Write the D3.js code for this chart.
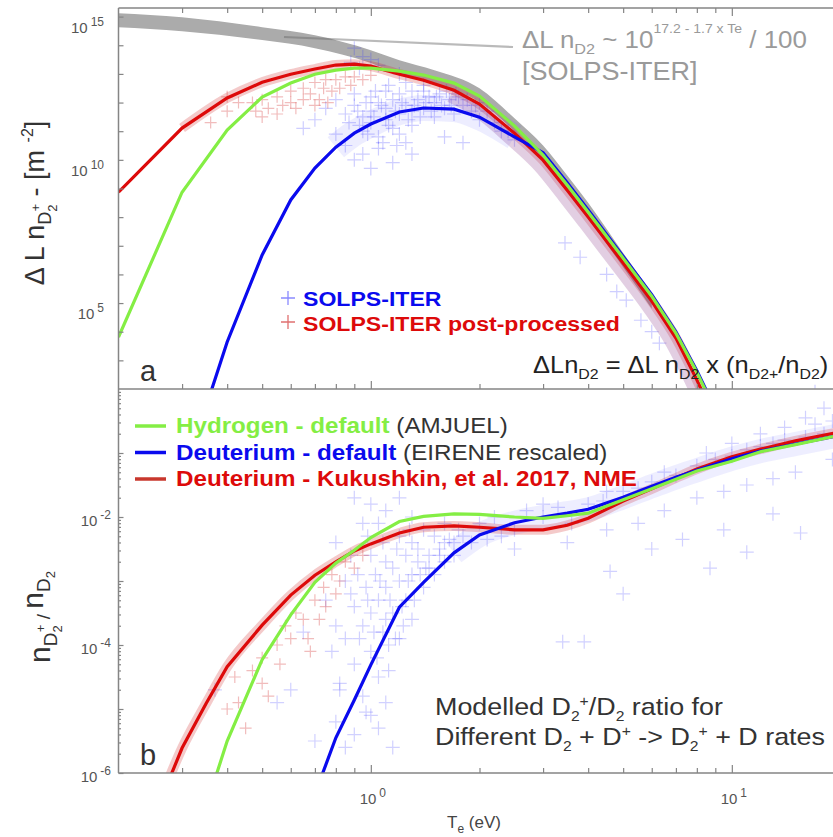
<!DOCTYPE html>
<html><head><meta charset="utf-8">
<script src="https://cdn.jsdelivr.net/npm/d3@7"></script>
<style>
body{margin:0;background:#fff}
svg{display:block}
text{font-family:"Liberation Sans",Arial,Helvetica,sans-serif}
</style>
</head><body>
<svg id="c" width="833" height="837"></svg>
<script>
// ---------------- DATA (log10 of the y quantity) ----------------
// x axis: electron temperature Te (eV)
const xTickMajor = [1, 10];
const xTickMinor = [0.3,0.4,0.5,0.6,0.7,0.8,0.9,2,3,4,5,6,7,8,9,20];
const topTickExp = [3,4,5,6,7,8,9,10,11,12,13,14,15];
const topLabelExp = [5,10,15];
const botTickExp = [-6,-5,-4,-3,-2,-1];
const botLabelExp = [-6,-4,-2];

// Panel a : Delta L n_D2+  [m^-2]  (log10)
const teTop      = [0.2,0.3,0.4,0.5,0.6,0.7,0.8,0.9,1.0,1.2,1.4,1.7,2.0,2.5,3.0,3.5,4,5,6,7,8,8.5];
const greenTop   = [3.81,8.87,11.04,12.19,12.68,12.99,13.13,13.2,13.2,13.10,12.96,12.68,12.23,11.18,10.17,9.12,8.18,6.57,5.24,3.95,2.59,1.89];
const redTop     = [8.87,11.11,12.16,12.71,12.99,13.17,13.31,13.34,13.27,12.99,12.78,12.43,11.95,10.93,9.99,8.94,8.0,6.40,5.07,3.78,2.32,1.6];
const teBlueTop  = [0.35,0.4,0.5,0.6,0.7,0.8,0.9,1.0,1.2,1.4,1.7,2.0,2.5,3.0,3.5,4,5,6,7,8,8.5];
const blueTop    = [1.40,3.64,6.68,8.60,9.71,10.44,10.93,11.25,11.67,11.81,11.77,11.49,10.8,10.25,9.2,8.25,6.63,5.29,4.0,2.64,1.95];
// grey band: Delta L n_D2 ~ 10^(17.2-1.7 Te)/100 [SOLPS-ITER]
const teBand     = [0.2,0.3,0.5,0.7,1.0,1.2,1.5,2.0,2.5,3.0,3.5,4,5,6];
const bandHi     = [15.12,14.98,14.63,14.35,13.83,13.48,13.13,12.50,11.45,10.5,9.45,8.5,6.75,5.35];
const bandLo     = [14.63,14.49,14.18,13.90,13.38,12.99,12.64,12.02,11.0,9.95,8.9,7.95,6.25,4.8];
// SOLPS-ITER scatter (blue) and post-processed scatter (red), panel a  [Te, log10]
const solpsTop = [
 [0.9,13.9],[0.95,13.6],[0.88,13.4],[1.0,13.5],[0.93,13.2],[1.05,13.3],[1.2,13.0],
 [0.75,11.8],[0.8,12.1],[0.85,11.6],[0.9,12.3],[0.9,11.9],[0.95,11.5],[0.95,11.0],[1.0,12.2],[1.0,11.7],[1.0,11.3],
 [1.05,12.0],[1.05,10.8],[1.1,12.4],[1.1,11.8],[1.1,11.4],[1.15,12.1],[1.15,11.1],[1.2,12.3],[1.2,11.6],[1.2,10.9],
 [1.25,11.9],[1.3,12.4],[1.3,11.7],[1.3,11.2],[1.35,12.1],[1.4,12.4],[1.4,11.8],[1.45,12.2],[1.5,12.0],[1.5,11.5],
 [1.55,12.3],[1.6,11.8],[1.65,12.1],[1.7,11.6],[1.75,12.2],[1.8,11.9],[1.9,11.7],[2.0,11.4],[2.0,12.0],[2.2,11.3],
 [2.3,11.0],[2.5,10.7],
 [0.87,11.3],[0.92,11.7],[0.97,12.0],[1.02,11.5],[1.07,11.9],[1.12,11.2],[1.17,11.7],[1.22,12.0],[1.27,11.4],
 [1.32,11.9],[1.37,11.5],[1.42,12.0],[1.47,11.7],[1.52,12.2],[1.57,11.9],[1.62,12.4],[1.67,11.9],[1.72,12.3],
 [1.85,12.1],[1.95,11.9],[2.1,11.7],[2.4,11.0],[1.12,12.6],[1.25,12.7],[1.4,12.6],[1.03,12.4],[0.98,10.9],
 [1.08,10.6],[1.18,10.5],[0.93,11.2],
 [0.85,10.5],[0.95,10.2],[1.05,10.4],[1.15,9.9],[1.3,10.2],[1.0,9.7],[0.9,10.0],[1.25,10.6],[0.8,10.9],[0.7,11.4],
 [0.65,11.1],[1.6,10.8],[1.8,10.6],
 [3.45,7.1],[3.8,6.6],[4.5,6.0],[4.8,5.4],[5.1,5.1],[5.6,4.4],[6.0,4.0],[6.3,3.6],[17,1.9]
];
const ppTop = [
 [0.47,12.0],[0.48,11.7],[0.5,11.5],[0.5,12.1],[0.52,11.8],[0.55,11.6],[0.55,12.2],[0.57,11.9],[0.6,12.4],
 [0.6,12.0],[0.62,11.8],[0.65,12.5],[0.65,12.1],[0.68,12.3],[0.7,12.7],[0.7,11.9],[0.72,12.1],[0.74,12.5],
 [0.75,12.8],[0.76,12.0],[0.78,12.4],[0.8,12.8],[0.82,12.5],[0.85,12.9],[0.88,12.6],[0.9,12.9],[0.95,12.8],
 [1.0,12.95],[0.36,11.3],[0.4,11.7],[0.43,12.0],[0.4,12.2]
];

// Panel b : n_D2+ / n_D2  (log10)
const teRedBot   = [0.25,0.3,0.35,0.4,0.5,0.6,0.7,0.8,0.9,1.0,1.2,1.4,1.7,2.0,2.5,3.0,3.5,4,5,6,7,8,10,12,15,20];
const redBot     = [-6.70,-5.61,-4.91,-4.34,-3.69,-3.22,-2.91,-2.70,-2.53,-2.42,-2.25,-2.16,-2.14,-2.16,-2.20,-2.20,-2.13,-2.02,-1.75,-1.56,-1.39,-1.25,-1.06,-0.94,-0.81,-0.67];
const teGreenBot = [0.35,0.4,0.5,0.6,0.7,0.8,0.9,1.0,1.2,1.4,1.7,2.0,2.5,3.0,3.5,4,5,6,7,8,10,12,15,20];
const greenBot   = [-6.52,-5.50,-4.23,-3.53,-3.02,-2.72,-2.52,-2.32,-2.07,-1.99,-1.95,-1.96,-2.00,-2.02,-1.98,-1.94,-1.73,-1.56,-1.41,-1.28,-1.13,-0.98,-0.87,-0.72];
const teBlueBot  = [0.7,0.8,0.9,1.0,1.2,1.4,1.7,2.0,2.5,3.0,3.5,4,5,6,7,8,10,12,15,20];
const blueBot    = [-6.33,-5.45,-4.86,-4.31,-3.41,-3.02,-2.56,-2.28,-2.09,-2.00,-1.94,-1.88,-1.69,-1.52,-1.38,-1.27,-1.09,-0.97,-0.86,-0.72];
const solpsBot = [
 [0.75,-3.3],[0.78,-4.1],[0.8,-2.4],[0.8,-3.7],[0.82,-4.6],[0.85,-3.0],[0.85,-3.9],[0.88,-2.6],[0.9,-3.4],[0.9,-4.3],
 [0.92,-2.9],[0.95,-3.7],[0.95,-4.8],[0.97,-3.1],[1.0,-2.6],[1.0,-3.5],[1.0,-4.1],[1.03,-2.9],[1.05,-3.3],[1.05,-4.5],
 [1.08,-3.8],[1.1,-2.7],[1.1,-3.1],[1.12,-4.0],[1.15,-3.5],[1.15,-2.8],[1.2,-3.0],[1.2,-3.9],[1.25,-2.6],[1.25,-3.3],
 [1.3,-2.9],[1.3,-3.6],[1.35,-2.7],[1.4,-3.1],[1.45,-2.6],[1.5,-2.9],[1.55,-2.5],[1.6,-2.7],[1.7,-2.4],
 [0.98,-3.3],[1.02,-3.8],[1.06,-3.0],[1.1,-3.6],[1.13,-3.3],[1.17,-3.9],[1.22,-3.4],[1.27,-3.0],[1.32,-3.3],
 [1.37,-2.9],[1.42,-2.8],[1.18,-2.5],[1.08,-2.4],[1.28,-2.2],[1.12,-4.4],[0.93,-3.9],[0.88,-3.2],[1.04,-4.2],
 [1.23,-3.7],[1.6,-2.4],[1.7,-2.6],[1.9,-2.4],[2.1,-2.35],[2.3,-2.3],[0.98,-2.3],[1.05,-2.1],
 [1.2,-2.3],[1.3,-2.4],[1.4,-2.2],[1.5,-2.3],[1.6,-2.1],[1.35,-2.5],[1.45,-2.8],[1.55,-2.6],[1.65,-2.35],[1.75,-2.2],
 [0.9,-1.7],[1.0,-1.8],[1.1,-1.9],[1.2,-1.7],[0.95,-2.1],[1.3,-2.0],
 [0.7,-5.5],[0.8,-5.2],[0.85,-5.6],[0.9,-5.4],[1.0,-5.1],[1.05,-5.3],[0.6,-4.7],[0.55,-4.9],[1.1,-4.9],[0.65,-3.8],
 [0.37,-4.7],[0.82,-4.7],[0.97,-5.05],[1.15,-5.6],
 [1.8,-2.3],[2.0,-2.1],[2.2,-2.0],[2.5,-2.2],[2.7,-1.9],[3.0,-2.0],[3.3,-1.85],[3.6,-2.1],[4.0,-1.8],[4.4,-1.75],
 [5.0,-1.6],[5.5,-1.55],[6.0,-1.45],[7.0,-1.35],[8.0,-1.2],[9.0,-1.1],[10,-1.05],[11,-0.95],[12,-0.9],[13,-0.85],
 [14,-0.8],[16,-0.75],[18,-0.7],
 [3.0,-1.8],[4.5,-1.6],[6.5,-1.3],[8.5,-1.0],[10,-0.85],[12,-0.7],[14,-0.6],[16,-0.45],[18,-0.3],[17,-0.55],[19,-0.5],
 [2.5,-2.5],[3.5,-2.4],[4.5,-2.2],[5.5,-2.1],[6.5,-1.9],[8,-1.7],[9.5,-1.6],[11,-1.5],[13,-1.4],[15,-1.3],[19,-1.1],
 [4.6,-2.85],[5.0,-3.2],[3.4,-3.95],[3.9,-3.95],[8.7,-2.8],[11,-2.55],[15.5,-2.25],[13,-1.95],[7.3,-2.35],[6,-2.5],[9.5,-2.2]
];
const ppBot = [
 [0.47,-4.4],[0.5,-4.2],[0.5,-4.6],[0.52,-4.8],[0.55,-4.0],[0.56,-4.3],[0.58,-3.7],[0.6,-3.9],[0.62,-3.5],[0.65,-3.6],
 [0.67,-3.9],[0.68,-4.1],[0.7,-3.3],[0.72,-3.6],[0.74,-3.1],[0.75,-3.4],[0.78,-2.9],[0.8,-3.2],[0.82,-3.0],[0.85,-2.7],
 [0.9,-2.8],[0.95,-2.6],[0.42,-4.5],[0.4,-5.0],[0.45,-5.3],[0.43,-4.9]
];

// ---------------- STYLE ----------------
const GREEN = "#84ee44", BLUE = "#0a0aee", RED = "#dd0a0a", AXIS = "#858585", TXT = "#333";

// ---------------- SCALES ----------------
const svg = d3.select("#c");
const x = d3.scaleLog().domain([0.2, 20]).range([118.5, 840.5]);
const yTop = d3.scaleLog().domain([1e2, 2e15]).range([389, 8]);
const yBot = d3.scaleLog().domain([1e-6, 1]).range([773, 389]);
const L = 118.5, R = 840.5;

const defs = svg.append("defs");
defs.append("clipPath").attr("id","clipTop").append("rect").attr("x",L).attr("y",8).attr("width",R-L).attr("height",381);
defs.append("clipPath").attr("id","clipBot").append("rect").attr("x",L).attr("y",389).attr("width",R-L).attr("height",384);

const zip = (a,b) => a.map((t,i)=>[t,b[i]]);
const lineGen = ys => d3.line().x(d=>x(d[0])).y(d=>ys(Math.pow(10,d[1])));

function pluses(g, data, ys, color, op, s){
  g.append("g").selectAll("path").data(data).join("path")
   .attr("d", d=>{const px=x(d[0]), py=ys(Math.pow(10,d[1])); return `M${px-s},${py}h${2*s}M${px},${py-s}v${2*s}`;})
   .attr("stroke", color).attr("stroke-opacity", op).attr("stroke-width",1.2).attr("fill","none");
}

// ---------------- PANEL A ----------------
const gA = svg.append("g").attr("clip-path","url(#clipTop)");
gA.append("path").datum(teBand.map((t,i)=>[t,bandLo[i],bandHi[i]]))
  .attr("d", d3.area().x(d=>x(d[0])).y0(d=>yTop(Math.pow(10,d[1]))).y1(d=>yTop(Math.pow(10,d[2]))).curve(d3.curveMonotoneX))
  .attr("fill","#ababab");
// leader line to annotation
svg.append("line").attr("x1",284).attr("y1",37).attr("x2",513).attr("y2",47)
  .attr("stroke","#666").attr("stroke-opacity",0.45).attr("stroke-width",2.2);

pluses(gA, solpsTop, yTop, "#3a3aff", 0.25, 7);
pluses(gA, ppTop, yTop, "#d02020", 0.3, 6);
// dense scatter bands around the post-processed curve
const redTopPts = zip(teTop, redTop);
gA.append("path").datum(redTopPts.filter(d=>d[0]>=0.25)).attr("d", lineGen(yTop).curve(d3.curveMonotoneX))
  .attr("fill","none").attr("stroke","#d02020").attr("stroke-opacity",0.24).attr("stroke-width",10);
gA.append("path").datum(redTopPts.filter(d=>d[0]>=1.7)).attr("d", lineGen(yTop).curve(d3.curveMonotoneX))
  .attr("transform","translate(-4,6)")
  .attr("fill","none").attr("stroke","#8a3a8a").attr("stroke-opacity",0.25).attr("stroke-width",12);
gA.append("path").datum(zip(teBlueTop,blueTop).filter(d=>d[0]>=0.8 && d[0]<=2.5)).attr("d", lineGen(yTop).curve(d3.curveMonotoneX))
  .attr("fill","none").attr("stroke","#4a4aff").attr("stroke-opacity",0.10).attr("stroke-width",26);

gA.append("path").datum(redTopPts).attr("d", lineGen(yTop)).attr("fill","none").attr("stroke",RED).attr("stroke-width",3.2);
gA.append("path").datum(zip(teBlueTop,blueTop)).attr("d", lineGen(yTop)).attr("fill","none").attr("stroke",BLUE).attr("stroke-width",3.2);
gA.append("path").datum(zip(teTop,greenTop)).attr("d", lineGen(yTop)).attr("fill","none").attr("stroke",GREEN).attr("stroke-width",3.2);

// ---------------- PANEL B ----------------
const gB = svg.append("g").attr("clip-path","url(#clipBot)");
pluses(gB, solpsBot, yBot, "#3a3aff", 0.23, 7);
pluses(gB, ppBot, yBot, "#d02020", 0.3, 6);
const redBotPts = zip(teRedBot, redBot);
gB.append("path").datum(redBotPts).attr("d", lineGen(yBot).curve(d3.curveMonotoneX))
  .attr("fill","none").attr("stroke","#d02020").attr("stroke-opacity",0.24).attr("stroke-width",10);
gB.append("path").datum(zip(teBlueBot,blueBot).filter(d=>d[0]>=1.5)).attr("d", lineGen(yBot).curve(d3.curveMonotoneX))
  .attr("fill","none").attr("stroke","#5a5aff").attr("stroke-opacity",0.10).attr("stroke-width",24);
gB.append("path").datum(redBotPts).attr("d", lineGen(yBot)).attr("fill","none").attr("stroke",RED).attr("stroke-width",3.2);
gB.append("path").datum(zip(teBlueBot,blueBot)).attr("d", lineGen(yBot)).attr("fill","none").attr("stroke",BLUE).attr("stroke-width",3.2);
gB.append("path").datum(zip(teGreenBot,greenBot)).attr("d", lineGen(yBot)).attr("fill","none").attr("stroke",GREEN).attr("stroke-width",3.2);

// ---------------- AXES ----------------
function styleAxis(g){ g.select(".domain").remove(); g.selectAll("line").attr("stroke",AXIS).attr("stroke-width",1.2); g.selectAll("text").remove(); }
svg.append("g").attr("transform","translate(0,8)").call(d3.axisBottom(x).tickValues(xTickMinor).tickSize(5).tickFormat("")).call(styleAxis);
svg.append("g").attr("transform","translate(0,8)").call(d3.axisBottom(x).tickValues(xTickMajor).tickSize(8).tickFormat("")).call(styleAxis);
svg.append("g").attr("transform","translate(0,389)").call(d3.axisTop(x).tickValues(xTickMinor).tickSize(5).tickFormat("")).call(styleAxis);
svg.append("g").attr("transform","translate(0,389)").call(d3.axisTop(x).tickValues(xTickMajor).tickSize(8).tickFormat("")).call(styleAxis);
svg.append("g").attr("transform","translate(0,773)").call(d3.axisTop(x).tickValues(xTickMinor).tickSize(5).tickFormat("")).call(styleAxis);
svg.append("g").attr("transform","translate(0,773)").call(d3.axisTop(x).tickValues(xTickMajor).tickSize(8).tickFormat("")).call(styleAxis);
svg.append("g").attr("transform",`translate(${L},0)`).call(d3.axisRight(yTop).tickValues(topTickExp.map(e=>Math.pow(10,e))).tickSize(5).tickFormat("")).call(styleAxis);
svg.append("g").attr("transform",`translate(${L},0)`).call(d3.axisRight(yBot).tickValues(botTickExp.map(e=>Math.pow(10,e))).tickSize(5).tickFormat("")).call(styleAxis);
const botMinor = [];
botTickExp.forEach(e=>{for(let m=2;m<=9;m++) botMinor.push(m*Math.pow(10,e));});
svg.append("g").attr("transform",`translate(${L},0)`).call(d3.axisRight(yBot).tickValues(botMinor).tickSize(2.5).tickFormat("")).call(styleAxis);

// frame
const frame = svg.append("g").attr("stroke",AXIS).attr("stroke-width",1.5);
frame.append("line").attr("x1",L).attr("x2",833).attr("y1",8).attr("y2",8);
frame.append("line").attr("x1",L).attr("x2",833).attr("y1",389).attr("y2",389);
frame.append("line").attr("x1",L).attr("x2",833).attr("y1",773).attr("y2",773);
frame.append("line").attr("x1",L).attr("x2",L).attr("y1",8).attr("y2",773);

// tick labels 10^n
function powLabel(px, py, exp, anchor){
  const t = svg.append("text").attr("x",px).attr("y",py).attr("text-anchor",anchor)
    .attr("fill","#555").attr("font-size",15);
  t.append("tspan").text("10");
  t.append("tspan").attr("dx",3).attr("dy",-7).attr("font-size",12).text(String(exp));
}
topLabelExp.forEach(e=>powLabel(104, yTop(Math.pow(10,e))+16, e, "end"));
botLabelExp.forEach(e=>powLabel(111, yBot(Math.pow(10,e))+9, e, "end"));
powLabel(x(1)+2, 804, 0, "middle");
powLabel(x(10)+2, 804, 1, "middle");

// x label
const xl = svg.append("text").attr("x",447).attr("y",828).attr("fill","#444").attr("font-size",17);
xl.append("tspan").text("T");
xl.append("tspan").attr("dy",5).attr("font-size",12).text("e");
xl.append("tspan").attr("dy",-5).text(" (eV)");

// y label panel a
const yla = svg.append("text").attr("transform","translate(44,203) rotate(-90)").attr("text-anchor","middle")
  .attr("fill",TXT).attr("font-size",27);
yla.append("tspan").text("Δ L n");
yla.append("tspan").attr("dy",7).attr("font-size",18).text("D");
yla.append("tspan").attr("dy",6).attr("font-size",13).text("2");
yla.append("tspan").attr("dx",-7).attr("dy",-17).attr("font-size",13).text("+");
yla.append("tspan").attr("dy",4).text(" - [m ");
yla.append("tspan").attr("dy",-11).attr("font-size",16).text("-2");
yla.append("tspan").attr("dy",11).text("]");

// y label panel b
const ylb = svg.append("text").attr("transform","translate(50,617) rotate(-90)").attr("text-anchor","middle")
  .attr("fill",TXT).attr("font-size",30);
ylb.append("tspan").text("n");
ylb.append("tspan").attr("dy",7).attr("font-size",19).text("D");
ylb.append("tspan").attr("dy",5).attr("font-size",13).text("2");
ylb.append("tspan").attr("dx",-7).attr("dy",-17).attr("font-size",13).text("+");
ylb.append("tspan").attr("dy",5).attr("font-size",19).text(" / ");
ylb.append("tspan").attr("dy",-7).text("n");
ylb.append("tspan").attr("dy",7).attr("font-size",19).text("D");
ylb.append("tspan").attr("dy",5).attr("font-size",13).text("2");

// panel letters
svg.append("text").attr("x",140).attr("y",381).attr("font-size",29).attr("fill",TXT).text("a");
svg.append("text").attr("x",140).attr("y",765).attr("font-size",29).attr("fill",TXT).text("b");

// grey annotation
const ga = svg.append("g").attr("fill","#9a9a9a");
const g1 = ga.append("text").attr("transform","translate(522,48) scale(1.08,1)").attr("font-size",24);
g1.append("tspan").text("ΔL n");
g1.append("tspan").attr("dy",6).attr("font-size",15).text("D2");
g1.append("tspan").attr("dy",-6).text(" ~ 10");
g1.append("tspan").attr("dy",-15).attr("font-size",13).text("17.2 - 1.7 x Te");
g1.append("tspan").attr("dy",15).text("  / 100");
ga.append("text").attr("transform","translate(522,80) scale(1.08,1)").attr("font-size",25).text("[SOLPS-ITER]");

// legend panel a
function plusMark(cx, cy, color){
  svg.append("path").attr("d",`M${cx-7},${cy}h14M${cx},${cy-7}v14`).attr("stroke",color).attr("stroke-width",1.3).attr("fill","none");
}
plusMark(288,298,"#8a8aff");
plusMark(288,322,"#e07070");
svg.append("text").attr("transform","translate(303,306) scale(1.1,1)").attr("font-size",21).attr("font-weight","bold").attr("fill",BLUE).text("SOLPS-ITER");
svg.append("text").attr("transform","translate(303,331) scale(1.1,1)").attr("font-size",21).attr("font-weight","bold").attr("fill",RED).text("SOLPS-ITER post-processed");

// formula in panel a
const fa = svg.append("text").attr("transform","translate(533,373) scale(1.06,1)").attr("font-size",24).attr("fill","#222");
fa.append("tspan").text("ΔLn");
fa.append("tspan").attr("dy",6).attr("font-size",15).text("D2");
fa.append("tspan").attr("dy",-6).text(" = ΔL n");
fa.append("tspan").attr("dy",6).attr("font-size",15).text("D2");
fa.append("tspan").attr("dy",-6).text(" x (n");
fa.append("tspan").attr("dy",6).attr("font-size",15).text("D2+");
fa.append("tspan").attr("dy",-6).text("/n");
fa.append("tspan").attr("dy",6).attr("font-size",15).text("D2");
fa.append("tspan").attr("dy",-6).text(")");

// legend panel b
const legB = [
  {c:GREEN, lc:GREEN, b:"Hydrogen - default", n:" (AMJUEL)"},
  {c:BLUE, lc:BLUE, b:"Deuterium - default", n:" (EIRENE rescaled)"},
  {c:RED, lc:"#c8372d", b:"Deuterium - Kukushkin, et al. 2017, NME", n:""}
];
legB.forEach((d,i)=>{
  const yy = 426 + i*26.5;
  svg.append("line").attr("x1",135).attr("x2",166).attr("y1",yy).attr("y2",yy).attr("stroke",d.lc).attr("stroke-width",3.5);
  const t = svg.append("text").attr("transform",`translate(176,${yy+7}) scale(1.1,1)`).attr("font-size",22);
  t.append("tspan").attr("font-weight","bold").attr("fill",d.c).text(d.b);
  if(d.n) t.append("tspan").attr("fill",TXT).text(d.n);
});

// annotation panel b
const a1 = svg.append("text").attr("transform","translate(435,715) scale(1.12,1)").attr("font-size",24).attr("fill",TXT);
a1.append("tspan").text("Modelled D");
a1.append("tspan").attr("dy",6).attr("font-size",14).text("2");
a1.append("tspan").attr("dy",-15).attr("font-size",14).text("+");
a1.append("tspan").attr("dy",9).text("/D");
a1.append("tspan").attr("dy",6).attr("font-size",14).text("2");
a1.append("tspan").attr("dy",-6).text(" ratio for");
const a2 = svg.append("text").attr("transform","translate(435,745) scale(1.12,1)").attr("font-size",24).attr("fill",TXT);
a2.append("tspan").text("Different D");
a2.append("tspan").attr("dy",6).attr("font-size",14).text("2");
a2.append("tspan").attr("dy",-6).text(" + D");
a2.append("tspan").attr("dy",-9).attr("font-size",14).text("+");
a2.append("tspan").attr("dy",9).text(" -> D");
a2.append("tspan").attr("dy",6).attr("font-size",14).text("2");
a2.append("tspan").attr("dy",-15).attr("font-size",14).text("+");
a2.append("tspan").attr("dy",9).text(" + D rates");
</script>
</body></html>
